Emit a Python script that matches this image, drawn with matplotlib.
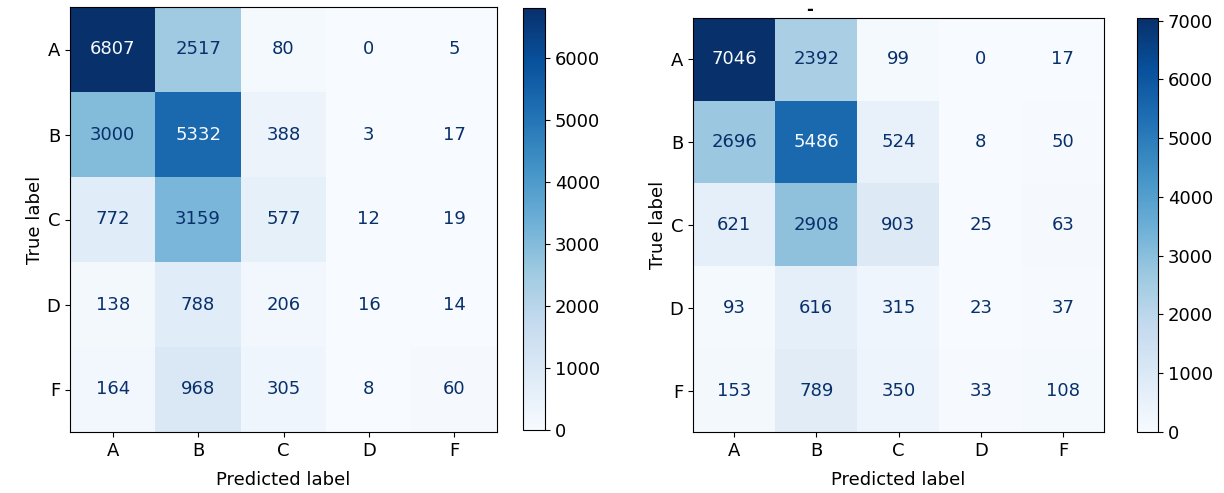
import numpy as np
import matplotlib
matplotlib.use("Agg")
import matplotlib.pyplot as plt

# class labels shared by both matrices
labels = ["A", "B", "C", "D", "F"]

# left confusion matrix (rows = true, cols = predicted)
cm_left = np.array([
    [6807, 2517, 80, 0, 5],
    [3000, 5332, 388, 3, 17],
    [772, 3159, 577, 12, 19],
    [138, 788, 206, 16, 14],
    [164, 968, 305, 8, 60],
])

# right confusion matrix
cm_right = np.array([
    [7046, 2392, 99, 0, 17],
    [2696, 5486, 524, 8, 50],
    [621, 2908, 903, 25, 63],
    [93, 616, 315, 23, 37],
    [153, 789, 350, 33, 108],
])

W, H = 1224, 493
plt.rcParams["font.size"] = 13
fig = plt.figure(figsize=(W / 100, H / 100), dpi=100)


def px_axes(x0, y0, x1, y1):
    # pixel box (top-left origin) -> figure fraction axes
    return fig.add_axes([x0 / W, 1 - y1 / H, (x1 - x0) / W, (y1 - y0) / H])


def draw_cm(ax, cax, cm):
    cmap = plt.cm.Blues
    im = ax.imshow(cm, cmap=cmap, interpolation="nearest", aspect="auto")
    thresh = (cm.max() + cm.min()) / 2.0
    for i in range(cm.shape[0]):
        for j in range(cm.shape[1]):
            color = cmap(0) if cm[i, j] >= thresh else cmap(1.0)
            ax.text(j, i, str(cm[i, j]), ha="center", va="center", color=color)
    ax.set_xticks(range(len(labels)))
    ax.set_xticklabels(labels)
    ax.set_yticks(range(len(labels)))
    ax.set_yticklabels(labels)
    ax.set_xlabel("Predicted label", labelpad=8)
    ax.set_ylabel("True label", labelpad=2)
    cb = fig.colorbar(im, cax=cax)
    cb.set_ticks(np.arange(0, cm.max() + 1, 1000))
    return im


ax1 = px_axes(70, 7, 497, 432)
cax1 = px_axes(523, 8, 545, 430)
draw_cm(ax1, cax1, cm_left)

ax2 = px_axes(693, 18, 1104, 432)
cax2 = px_axes(1137, 18, 1158, 432)
draw_cm(ax2, cax2, cm_right)

# leftover of a cropped title above the right matrix
fig.text(810 / W, 1 - 10 / H, "-", ha="center", va="center", fontsize=12,
         fontweight="bold")

fig.savefig("out.png", dpi=100)
